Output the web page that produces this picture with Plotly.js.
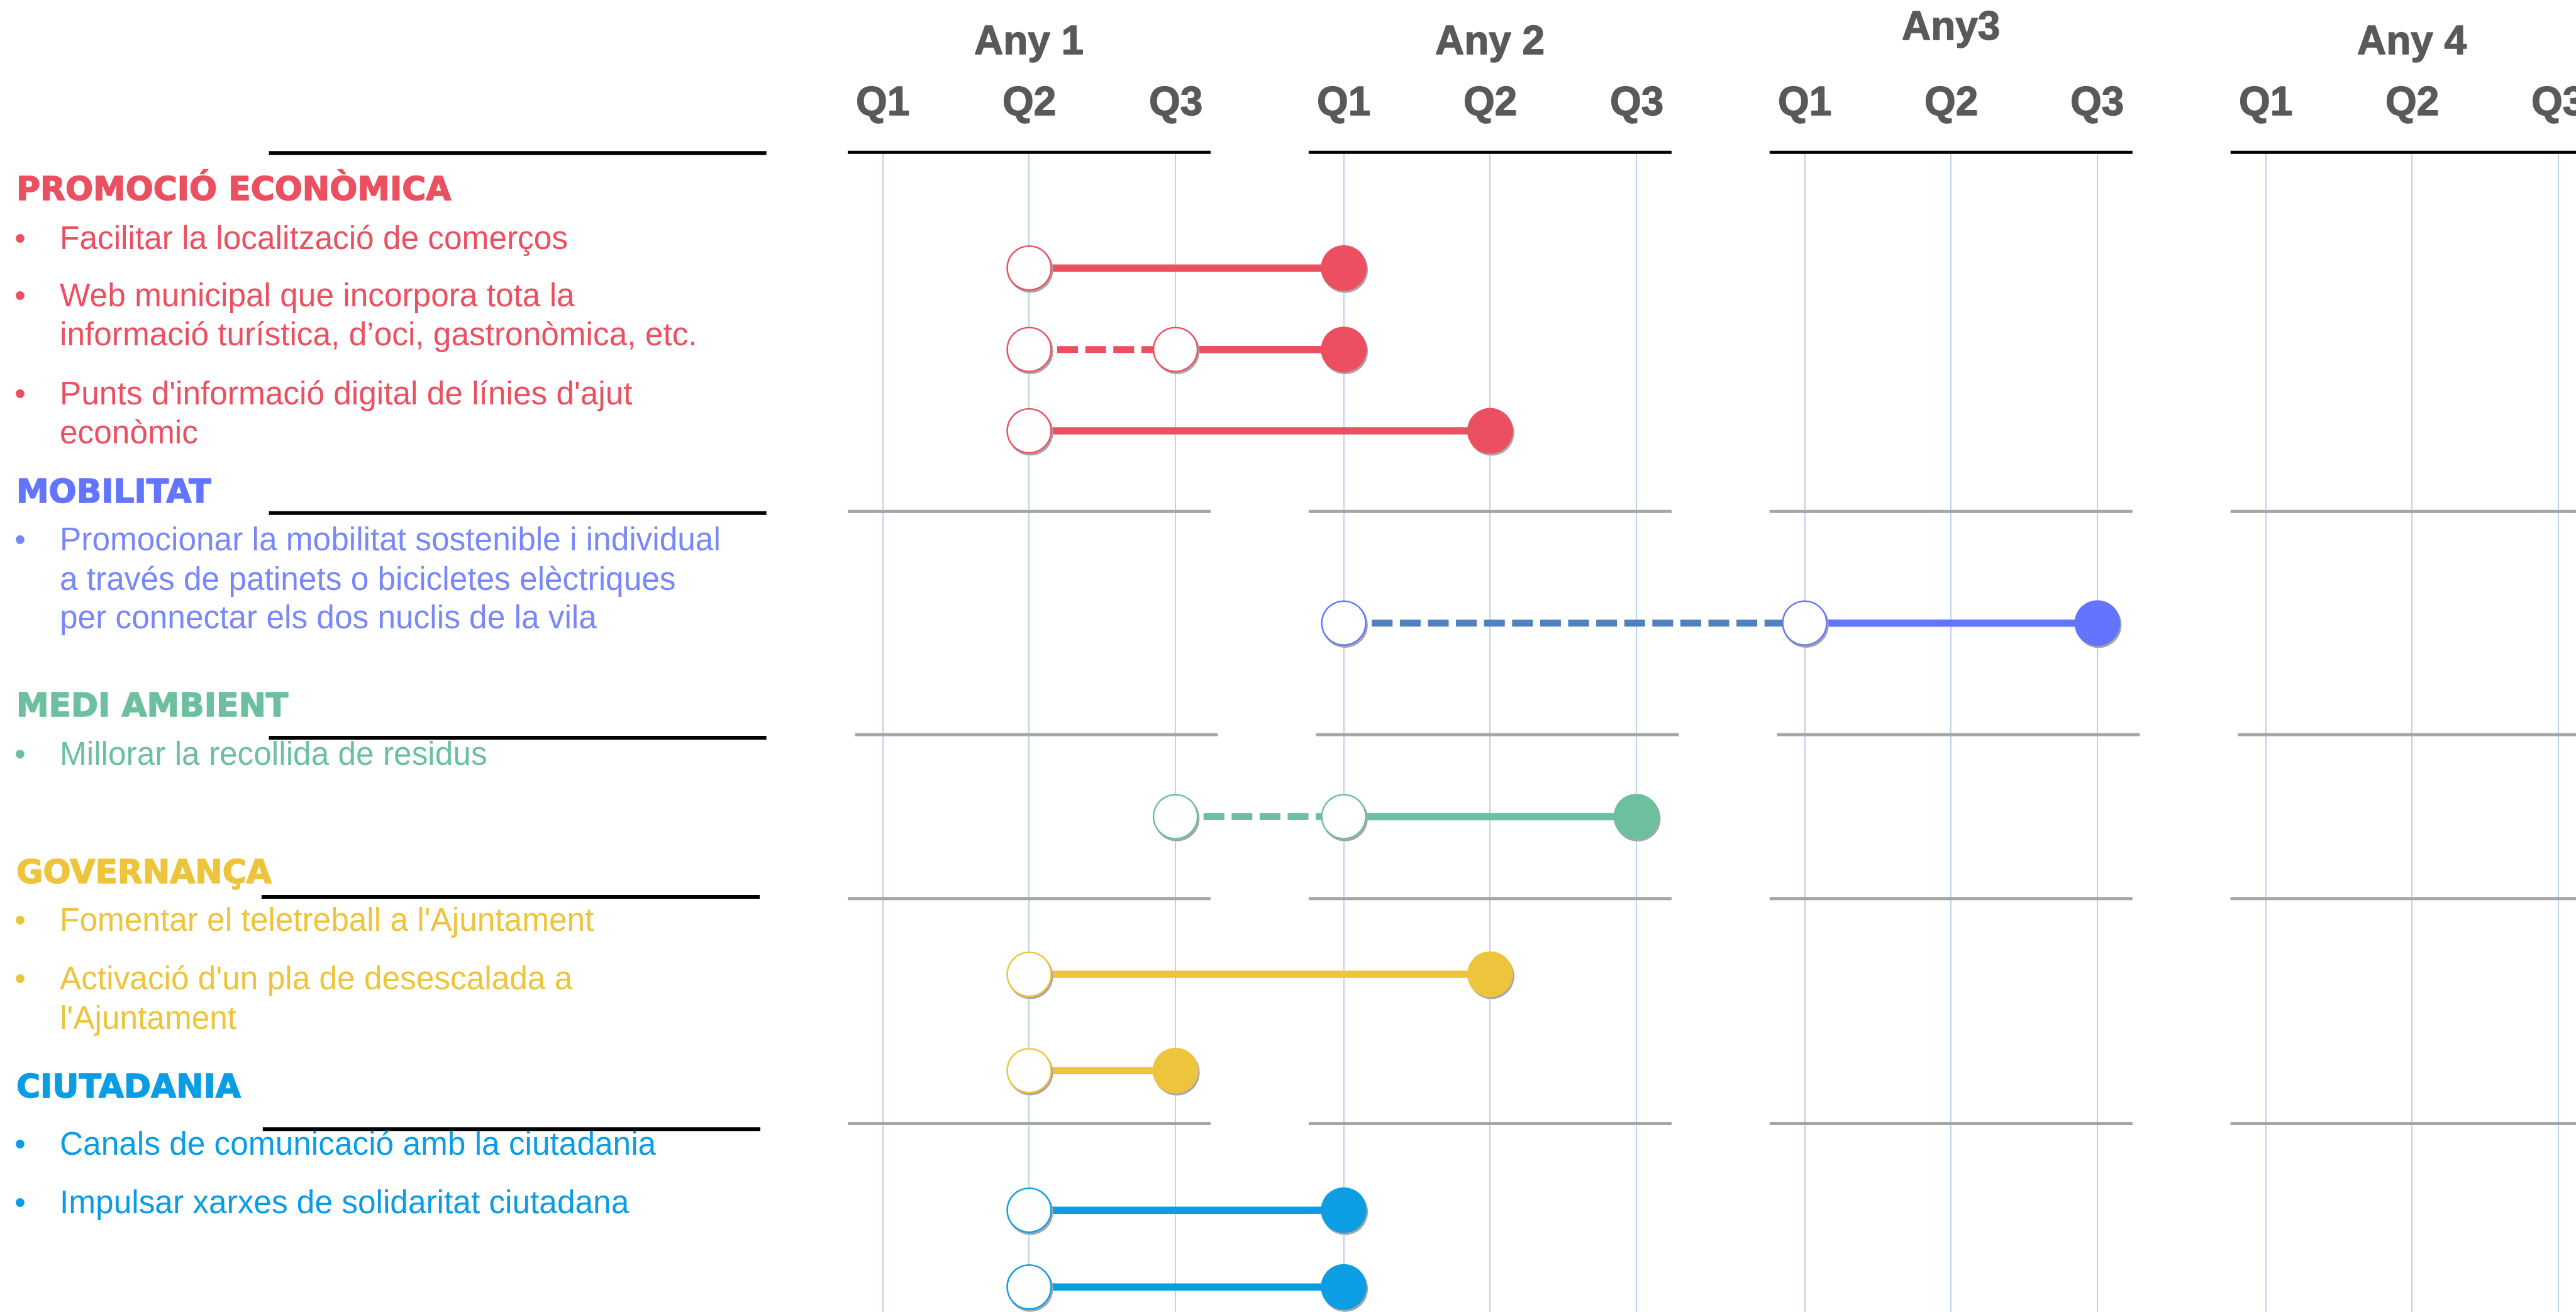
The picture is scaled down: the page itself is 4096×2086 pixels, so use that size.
<!DOCTYPE html>
<html><head><meta charset="utf-8">
<script src="https://cdn.plot.ly/plotly-3.0.1.min.js"></script>
<style>
html,body{margin:0;padding:0;background:#fff;overflow:hidden}
#chart{width:4096px;height:2086px}
.js-plotly-plot .scatterlayer .points path{filter:url(#mshadow)}
</style></head><body>
<svg width="0" height="0" style="position:absolute"><defs><filter id="mshadow" x="-50%" y="-50%" width="200%" height="200%"><feDropShadow dx="2" dy="3" stdDeviation="0.6" flood-color="#A6A6A6" flood-opacity="1"/></filter></defs></svg>
<div id="chart"></div>
<script>
// ---------------- DATA ----------------
const years = ['Any 1', 'Any 2', 'Any3', 'Any 4'];
const quarters = ['Q1', 'Q2', 'Q3'];
const sections = ['PROMOCIÓ ECONÒMICA', 'MOBILITAT', 'MEDI AMBIENT', 'GOVERNANÇA', 'CIUTADANIA'];
const taskLines = [
  ['Facilitar la localització de comerços'],
  ['Web municipal que incorpora tota la', 'informació turística, d’oci, gastronòmica, etc.'],
  ["Punts d'informació digital de línies d'ajut", 'econòmic'],
  ['Promocionar la mobilitat sostenible i individual', 'a través de patinets o bicicletes elèctriques', 'per connectar els dos nuclis de la vila'],
  ['Millorar la recollida de residus'],
  ["Fomentar el teletreball a l'Ajuntament"],
  ["Activació d'un pla de desescalada a", "l'Ajuntament"],
  ['Canals de comunicació amb la ciutadania'],
  ['Impulsar xarxes de solidaritat ciutadana']
];
const taskSection = [0, 0, 0, 1, 2, 3, 3, 4, 4];
// quarters as "year Q quarter"
const plannedStart = ['1Q2', '1Q2', '1Q2', '2Q1', '1Q3', '1Q2', '1Q2', '1Q2', '1Q2'];
const actualStart  = ['1Q2', '1Q3', '1Q2', '3Q1', '2Q1', '1Q2', '1Q2', '1Q2', '1Q2'];
const taskEnd      = ['2Q1', '2Q1', '2Q2', '3Q3', '2Q3', '2Q2', '1Q3', '2Q1', '2Q1'];

// ---------------- STYLE / LAYOUT ----------------
const S = 4096 / 4225;                 // reference -> window scale
const REF_W = 4225, REF_H = 2152;
const sectionColors = ['#EB5060', '#6375FF', '#6CC09F', '#EDC43B', '#0A9DE3'];
const itemTextColors = ['#EB5060', '#7888F8', '#6CC09F', '#EDC43B', '#0A9DE3'];
const dashColors = ['#EB5060', '#4F81BD', '#6CC09F', '#EDC43B', '#0A9DE3'];
const YEAR_SPAN = 3.15;
function qx(code) { const y = +code[0], q = +code[2]; return (y - 1) * YEAR_SPAN + (q - 1); }
const sectionBounds = [250, 839, 1205, 1474, 1843, 2152];   // reference px, section separators
const sectionRanges = [[2.99, -1.42], [0.5, -0.5], [0.5, -0.5], [1.55, -0.785], [1.325, -1.127]];
const ruleShift = [0, 0, 0.05, 0, 0];
const titleY = [308.7, 805.7, 1156.7, 1429.7, 1781.7];
const taskLineY = [[389.5], [483.5, 547.5], [644.5, 708.5], [884.5, 949.5, 1012.5], [1235.5], [1508.5], [1604.5, 1669.5], [1875.5], [1971.5]];
const leftRules = [[441, 1257, 251], [441, 1257, 841.5], [441, 1257, 1210], [429, 1246, 1471], [431, 1247, 1852]];
const px = v => v / REF_W;
const py = v => 1 - v / REF_H;
const yName = s => s === 0 ? 'y' : 'y' + (s + 1);
const bodyFont = 'Liberation Sans, Arial, sans-serif';
const titleFont = 'DejaVu Sans, Verdana, sans-serif';

// ---------------- TRACES ----------------
const traces = [];
taskLines.forEach((lines, i) => {
  const s = taskSection[i];
  const cat = lines.join(' ');
  const ya = yName(s);
  const col = sectionColors[s];
  if (plannedStart[i] !== actualStart[i]) {
    traces.push({ type: 'scatter', mode: 'lines', xaxis: 'x', yaxis: ya,
      x: [qx(plannedStart[i]), qx(actualStart[i])], y: [cat, cat],
      line: { color: dashColors[s], width: 11, dash: (34 * S).toFixed(1) + 'px,' + (12 * S).toFixed(1) + 'px' },
      hoverinfo: 'skip', showlegend: false, cliponaxis: false });
  }
  traces.push({ type: 'scatter', mode: 'lines', xaxis: 'x', yaxis: ya,
    x: [qx(actualStart[i]), qx(taskEnd[i])], y: [cat, cat],
    line: { color: col, width: 11.5 }, hoverinfo: 'skip', showlegend: false, cliponaxis: false });
  const opens = plannedStart[i] !== actualStart[i] ? [plannedStart[i], actualStart[i]] : [plannedStart[i]];
  traces.push({ type: 'scatter', mode: 'markers', xaxis: 'x', yaxis: ya,
    x: opens.map(qx), y: opens.map(() => cat),
    marker: { size: 70, color: '#FFFFFF', line: { color: col, width: 2.5 } },
    hoverinfo: 'skip', showlegend: false, cliponaxis: false });
  traces.push({ type: 'scatter', mode: 'markers', xaxis: 'x', yaxis: ya,
    x: [qx(taskEnd[i])], y: [cat],
    marker: { size: 73, color: col, line: { width: 0 } },
    hoverinfo: 'skip', showlegend: false, cliponaxis: false });
});

// ---------------- LAYOUT ----------------
const tickvals = [];
years.forEach((_, k) => quarters.forEach((_, q) => tickvals.push(qx((k + 1) + 'Q' + (q + 1)))));

const layout = {
  width: 4096, height: 2086,
  margin: { l: 0, r: 0, t: 0, b: 0 },
  paper_bgcolor: '#FFFFFF', plot_bgcolor: 'rgba(0,0,0,0)',
  showlegend: false,
  xaxis: { range: [(0 - 1448) / 240, (REF_W - 1448) / 240], tickvals: tickvals, showticklabels: false,
    showgrid: true, gridcolor: '#BDD1EC', gridwidth: 2, zeroline: false, showline: false, ticks: '', fixedrange: true },
  annotations: [], shapes: []
};
const heavyAnn = [];   // annotation indices drawn with an extra stroke (heavy display face)
sections.forEach((name, s) => {
  const cats = [];
  taskLines.forEach((l, i) => { if (taskSection[i] === s) cats.push(l.join(' ')); });
  layout[s === 0 ? 'yaxis' : 'yaxis' + (s + 1)] = {
    domain: [py(sectionBounds[s + 1]), py(sectionBounds[s])], anchor: 'x',
    type: 'category', categoryarray: cats, categoryorder: 'array', range: sectionRanges[s],
    showgrid: false, zeroline: false, showline: false, showticklabels: false, ticks: '', fixedrange: true
  };
  years.forEach((_, k) => {
    layout.shapes.push({ type: 'line', xref: 'x', yref: yName(s) + ' domain',
      x0: qx((k + 1) + 'Q1') - 0.24 + ruleShift[s], x1: qx((k + 1) + 'Q3') + 0.24 + ruleShift[s], y0: 1, y1: 1,
      line: { color: s === 0 ? '#000000' : '#A6A6A6', width: 5 } });
  });
  heavyAnn.push([layout.annotations.length, sectionColors[s], 1.6]);
  layout.annotations.push({ xref: 'paper', yref: 'paper', x: px(25), y: py(titleY[s]), xanchor: 'left', yanchor: 'middle',
    text: '<b>' + name + '</b>', showarrow: false, font: { family: titleFont, size: 53.5 * S, color: sectionColors[s] } });
});
leftRules.forEach(r => layout.shapes.push({ type: 'line', xref: 'paper', yref: 'paper',
  x0: px(r[0]), x1: px(r[1]), y0: py(r[2]), y1: py(r[2]), line: { color: '#000000', width: 6 } }));

taskLines.forEach((lines, i) => {
  const col = itemTextColors[taskSection[i]];
  layout.annotations.push({ xref: 'paper', yref: 'paper', x: px(22), y: py(taskLineY[i][0]), xanchor: 'left', yanchor: 'middle',
    text: '•', showarrow: false, font: { family: bodyFont, size: 53 * S, color: col } });
  lines.forEach((t, j) => layout.annotations.push({ xref: 'paper', yref: 'paper', x: px(96), y: py(taskLineY[i][j]),
    xanchor: 'left', yanchor: 'middle', text: t, showarrow: false, font: { family: bodyFont, size: 53 * S, color: col } }));
});

years.forEach((yr, k) => {
  heavyAnn.push([layout.annotations.length, '#595959', 1.4]);
  layout.annotations.push({ xref: 'x', yref: 'paper', x: qx((k + 1) + 'Q2'), y: py(yr === 'Any3' ? 42 : 66),
    xanchor: 'center', yanchor: 'middle', text: '<b>' + yr + '</b>', showarrow: false,
    font: { family: bodyFont, size: 66 * S, color: '#595959' } });
  quarters.forEach((q, j) => {
    heavyAnn.push([layout.annotations.length, '#595959', 1.4]);
    layout.annotations.push({ xref: 'x', yref: 'paper', x: qx((k + 1) + 'Q' + (j + 1)), y: py(166),
      xanchor: 'center', yanchor: 'middle', text: '<b>' + q + '</b>', showarrow: false,
      font: { family: bodyFont, size: 66 * S, color: '#595959' } });
  });
});

Plotly.newPlot('chart', traces, layout, { staticPlot: true, displayModeBar: false }).then(gd => {
  heavyAnn.forEach(([idx, col, w]) => {
    const g = gd.querySelector('.annotation[data-index="' + idx + '"] text');
    if (g) { g.style.stroke = col; g.style.strokeWidth = w + 'px'; g.style.strokeLinejoin = 'round'; }
  });
});
</script>
</body></html>
